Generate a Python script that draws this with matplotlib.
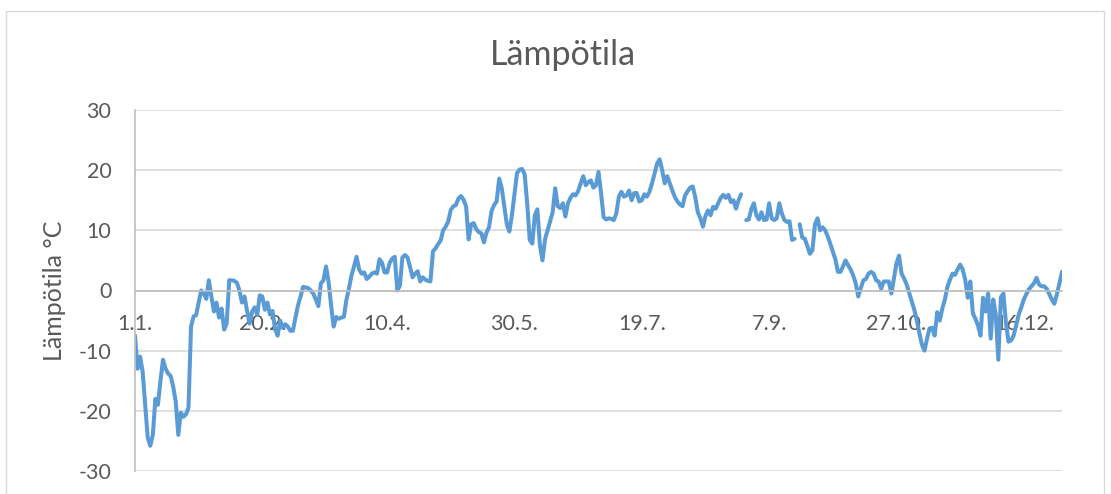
import numpy as np
import matplotlib
matplotlib.use("Agg")
import matplotlib.pyplot as plt
from matplotlib.patches import Rectangle

# Daily temperature, 365 days, NaN = missing day
temps = [
    -7.5, -13, -11, -13.5, -19, -24.5, -25.8, -24, -18, -19,
    -15, -11.5, -13, -13.8, -14.2, -16, -18.5, -24, -20.3, -21,
    -20.6, -19.5, -6, -4.3, -4.1, -2, 0, -0.5, -1.4, 1.7,
    -1, -3.5, -2, -4.5, -3, -6.5, -5.5, 1.7, 1.7, 1.6,
    1.3, 0, -2, -1, -3.4, -5.5, -3.5, -2.8, -4, -0.8,
    -1, -3.2, -2, -4, -3.4, -6.4, -7.5, -5, -6.2, -5.6,
    -6, -6.7, -6.7, -4.5, -2.5, -1, 0.6, 0.5, 0.4, 0,
    -0.5, -1.5, -2.6, 1.2, 1.7, 4, 1.5, -2.5, -6, -4.4,
    -4.7, -4.5, -4.4, -1.6, 0.3, 2.5, 4, 5.6, 3.5, 2.8,
    3, 1.9, 2.3, 2.8, 3, 2.8, 5.2, 4.6, 3, 3,
    4.6, 5.3, 5.6, 0, 0.8, 5.5, 5.9, 5.5, 3.9, 2.2,
    2.8, 3.2, 1.5, 2.2, 1.8, 1.6, 1.5, 6.5, 7, 7.7,
    8.3, 10, 10.6, 11.5, 13.4, 14, 14.2, 15.3, 15.7, 15.1,
    14, 8.5, 11, 11.2, 10.2, 9.7, 9.5, 8, 9.6, 10.5,
    13.2, 14.2, 14.8, 18.6, 17, 14, 11, 9.8, 12.5, 16,
    19.5, 20.1, 20.2, 19.3, 14.5, 8.4, 7.8, 12.5, 13.5, 7.5,
    5, 8.5, 10, 11.5, 13, 17, 14, 13.7, 14.5, 12.3,
    14.5, 15.4, 16, 15.8, 16.5, 17.8, 19, 17.5, 18, 18.3,
    17.1, 17.5, 19.7, 16.2, 12.2, 11.8, 12, 11.9, 11.7, 12.8,
    15.6, 16.4, 15.6, 15.8, 16.6, 15, 16.2, 16.2, 14.8, 15,
    16, 15.6, 16.4, 17.8, 19.4, 21.1, 21.8, 20, 17.8, 19,
    17.8, 16.6, 15.5, 14.8, 14.3, 14, 15.8, 16.5, 17.1, 17.3,
    15.5, 13, 12, 10.6, 12.4, 13.3, 12.5, 13.9, 13.6, 14.5,
    15.4, 15.9, 15.4, 15.9, 14.7, 15, 13.6, 15, 16, np.nan,
    11.7, 11.8, 13.5, 14.5, 12.5, 11.8, 13, 11.7, 11.8, 14.5,
    12, 11.7, 12, 14.5, 12.8, 11.7, 11.4, 11.5, 8.4, 8.6,
    np.nan, 11, 8.8, 8.6, 7.4, 6.1, 6.7, 11, 12, 10,
    10.5, 10, 9, 7.8, 6.5, 5.2, 3.1, 3.1, 4, 5,
    4.2, 3.5, 2.5, 1.2, -1, 0.4, 1.7, 1.9, 2.8, 3.1,
    2.8, 1.7, 1.5, 0.3, 1.5, 1.5, 1.5, -0.5, 2, 4.5,
    5.8, 2.8, 2, 1, -0.4, -1.8, -3.2, -5, -7.1, -9,
    -10, -8, -6.3, -6.2, -7.5, -3.6, -5, -3, -1.5, 0.6,
    1.8, 2.8, 2.6, 3.5, 4.3, 3.5, 1.8, -1.2, 1.5, -3.8,
    -4.7, -5.8, -7.5, -1.2, -3.5, -0.5, -8, -1.5, -4, -11.5,
    -1.1, -0.5, -5.5, -8.5, -8.3, -7.5, -5.8, -4, -2.8, -1.5,
    -0.6, 0.2, 0.7, 1.2, 2.1, 1, 0.7, 0.7, 0.3, -0.6,
    -1.5, -2.2, -0.6, 1.2, 3.1,
]

# category labels shown every 50 days
tick_days = [0, 50, 99, 149, 199, 249, 299, 349]
tick_labels = ["1.1.", "20.2.", "10.4.", "30.5.", "19.7.", "7.9.", "27.10.", "16.12."]
y_ticks = [-30, -20, -10, 0, 10, 20, 30]

TEXT = "#595959"
GRID = "#D9D9D9"
AXIS = "#BFBFBF"
BLUE = "#5B9BD5"

plt.rcParams["font.family"] = ["Lato", "DejaVu Sans"]

fig = plt.figure(figsize=(11.11, 4.94), dpi=100)
fig.patch.set_facecolor("white")

# chart area border
fig.patches.append(Rectangle((6 / 1111, -0.1), 1098 / 1111, 1.0 - 11 / 494 + 0.1,
                             transform=fig.transFigure, fill=False,
                             edgecolor=GRID, linewidth=1))

ax = fig.add_axes([135 / 1111, 1 - 471 / 494, (1062 - 135) / 1111, (471 - 110) / 494])

days = np.arange(len(temps))
ax.plot(days, temps, color=BLUE, linewidth=2.9, solid_joinstyle="round",
        solid_capstyle="round")

ax.set_xlim(0, len(temps) - 1)
ax.set_ylim(-30, 30)
ax.set_yticks(y_ticks)
ax.set_yticklabels([str(v) for v in y_ticks])
ax.grid(axis="y", color=GRID, linewidth=1.2)
ax.set_axisbelow(True)

ax.set_xticks(tick_days)
ax.set_xticklabels(tick_labels)

for s in ["top", "right"]:
    ax.spines[s].set_visible(False)
ax.spines["left"].set_color(AXIS)
ax.spines["left"].set_linewidth(1.2)
ax.spines["bottom"].set_position(("data", 0))
ax.spines["bottom"].set_color(AXIS)
ax.spines["bottom"].set_linewidth(1.2)

ax.tick_params(axis="x", length=0, pad=17, labelsize=15.5, colors=TEXT)
ax.tick_params(axis="y", length=0, pad=17, labelsize=15.5, colors=TEXT)

ax.set_ylabel("Lämpötila °C", fontsize=18, color=TEXT, labelpad=9)
fig.text(563 / 1111, 1 - 55 / 494, "Lämpötila", ha="center", va="center",
         fontsize=24.5, color=TEXT)

fig.savefig("out.png", dpi=100, facecolor="white")
